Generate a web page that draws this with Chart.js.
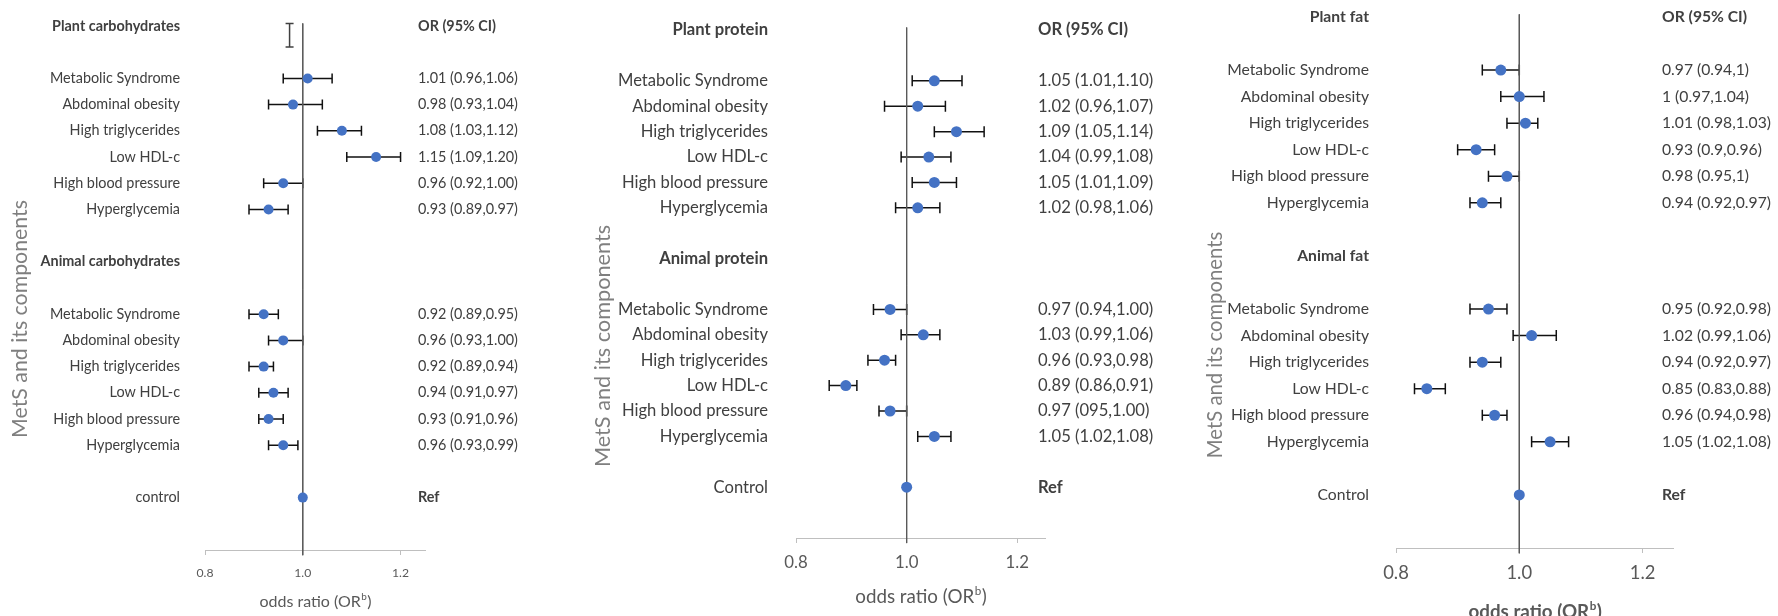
<!DOCTYPE html>
<html>
<head>
<meta charset="utf-8">
<script src="https://cdn.jsdelivr.net/npm/chart.js@4.4.1/dist/chart.umd.min.js"></script>
<style>
  html, body { margin: 0; padding: 0; background: #fff; }
  #wrap { position: relative; width: 1778px; height: 616px; overflow: hidden; }
  .panel { position: absolute; top: 0; height: 616px; }
</style>
</head>
<body>
<div id="wrap">
  <div class="panel" style="left:0;width:580px"><canvas id="carbChart" width="580" height="616"></canvas></div>
  <div class="panel" style="left:580px;width:600px"><canvas id="proteinChart" width="600" height="616"></canvas></div>
  <div class="panel" style="left:1180px;width:598px"><canvas id="fatChart" width="598" height="616"></canvas></div>
</div>
<script>
// --- Data ---
const components = ['Metabolic Syndrome', 'Abdominal obesity', 'High triglycerides',
                    'Low HDL-c', 'High blood pressure', 'Hyperglycemia'];
const xTicks = [0.8, 1.0, 1.2];

// carbohydrates
const carbHeaders = ['Plant carbohydrates', 'Animal carbohydrates'];
const carbControl = 'control';
const plantCarbOR = [1.01, 0.98, 1.08, 1.15, 0.96, 0.93];
const plantCarbLo = [0.96, 0.93, 1.03, 1.09, 0.92, 0.89];
const plantCarbHi = [1.06, 1.04, 1.12, 1.20, 1.00, 0.97];
const plantCarbText = ['1.01 (0.96,1.06)', '0.98 (0.93,1.04)', '1.08 (1.03,1.12)',
                       '1.15 (1.09,1.20)', '0.96 (0.92,1.00)', '0.93 (0.89,0.97)'];
const animalCarbOR = [0.92, 0.96, 0.92, 0.94, 0.93, 0.96];
const animalCarbLo = [0.89, 0.93, 0.89, 0.91, 0.91, 0.93];
const animalCarbHi = [0.95, 1.00, 0.94, 0.97, 0.96, 0.99];
const animalCarbText = ['0.92 (0.89,0.95)', '0.96 (0.93,1.00)', '0.92 (0.89,0.94)',
                        '0.94 (0.91,0.97)', '0.93 (0.91,0.96)', '0.96 (0.93,0.99)'];
// stray vertical error bar next to the first header: [x, yFrom, yTo]
const carbStrayBar = [0.973, -0.1, 0.8];

// protein
const proteinHeaders = ['Plant protein', 'Animal protein'];
const proteinControl = 'Control';
const plantProtOR = [1.05, 1.02, 1.09, 1.04, 1.05, 1.02];
const plantProtLo = [1.01, 0.96, 1.05, 0.99, 1.01, 0.98];
const plantProtHi = [1.10, 1.07, 1.14, 1.08, 1.09, 1.06];
const plantProtText = ['1.05 (1.01,1.10)', '1.02 (0.96,1.07)', '1.09 (1.05,1.14)',
                       '1.04 (0.99,1.08)', '1.05 (1.01,1.09)', '1.02 (0.98,1.06)'];
const animalProtOR = [0.97, 1.03, 0.96, 0.89, 0.97, 1.05];
const animalProtLo = [0.94, 0.99, 0.93, 0.86, 0.95, 1.02];
const animalProtHi = [1.00, 1.06, 0.98, 0.91, 1.00, 1.08];
const animalProtText = ['0.97 (0.94,1.00)', '1.03 (0.99,1.06)', '0.96 (0.93,0.98)',
                        '0.89 (0.86,0.91)', '0.97 (095,1.00)', '1.05 (1.02,1.08)'];

// fat
const fatHeaders = ['Plant fat', 'Animal fat'];
const fatControl = 'Control';
const plantFatOR = [0.97, 1.00, 1.01, 0.93, 0.98, 0.94];
const plantFatLo = [0.94, 0.97, 0.98, 0.90, 0.95, 0.92];
const plantFatHi = [1.00, 1.04, 1.03, 0.96, 1.00, 0.97];
const plantFatText = ['0.97 (0.94,1)', '1 (0.97,1.04)', '1.01 (0.98,1.03)',
                      '0.93 (0.9,0.96)', '0.98 (0.95,1)', '0.94 (0.92,0.97)'];
const animalFatOR = [0.95, 1.02, 0.94, 0.85, 0.96, 1.05];
const animalFatLo = [0.92, 0.99, 0.92, 0.83, 0.94, 1.02];
const animalFatHi = [0.98, 1.06, 0.97, 0.88, 0.98, 1.08];
const animalFatText = ['0.95 (0.92,0.98)', '1.02 (0.99,1.06)', '0.94 (0.92,0.97)',
                       '0.85 (0.83,0.88)', '0.96 (0.94,0.98)', '1.05 (1.02,1.08)'];

const controlOR = 1.0;
const controlText = 'Ref';
const columnHeader = 'OR (95% CI)';
const yTitle = 'MetS and its components';
const xTitle = 'odds ratio (OR';
const xTitleSup = 'b';

// row layout: header, gap, 6 components, gap, header, gap, 6 components, gap, control, gap
const plantRows = [2, 3, 4, 5, 6, 7];
const animalRows = [11, 12, 13, 14, 15, 16];
const headerRows = [0, 9];
const controlRow = 18;
const lastRow = 20;

const FONT = 'Lato, "Open Sans", sans-serif';
const TEXT = '#404040';

function buildRows(headers, control) {
    const rows = new Array(lastRow + 1).fill('');
    rows[headerRows[0]] = headers[0];
    rows[headerRows[1]] = headers[1];
    plantRows.forEach((r, i) => rows[r] = components[i]);
    animalRows.forEach((r, i) => rows[r] = components[i]);
    rows[controlRow] = control;
    return rows;
}

// --- Panel definitions (data + look) ---
const panels = [
    {
        id: 'carbChart', headers: carbHeaders, control: carbControl,
        plant: [plantCarbOR, plantCarbLo, plantCarbHi, plantCarbText],
        animal: [animalCarbOR, animalCarbLo, animalCarbHi, animalCarbText],
        stray: carbStrayBar,
        width: 580, yWidth: 205, padRight: 155, padTop: 23.4, padBottom: 26, yMin: -0.1,
        labelSize: 14.4, labelGap: 17, tickSize: 12.2, tickPad: 10.5,
        xTitleSize: 16, xTitleBold: false, xTitleY: 602,
        yTitleSize: 21.3, yTitleX: 20, yTitleY: 319,
        orX: 418, radius: 5, cap: 5
    },
    {
        id: 'proteinChart', headers: proteinHeaders, control: proteinControl,
        plant: [plantProtOR, plantProtLo, plantProtHi, plantProtText],
        animal: [animalProtOR, animalProtLo, animalProtHi, animalProtText],
        stray: null,
        width: 600, yWidth: 216, padRight: 135, padTop: 27.5, padBottom: 38, yMin: -0.1,
        labelSize: 16.6, labelGap: 20, tickSize: 16.8, tickPad: 10,
        xTitleSize: 18.8, xTitleBold: false, xTitleY: 597,
        yTitleSize: 21.7, yTitleX: 23, yTitleY: 346,
        orX: 458, radius: 5.5, cap: 5.5
    },
    {
        id: 'fatChart', headers: fatHeaders, control: fatControl,
        plant: [plantFatOR, plantFatLo, plantFatHi, plantFatText],
        animal: [animalFatOR, animalFatLo, animalFatHi, animalFatText],
        stray: null,
        width: 598, yWidth: 216, padRight: 104.6, padTop: 14.3, padBottom: 28, yMin: -0.1,
        labelSize: 15.7, labelGap: 19, tickSize: 18.4, tickPad: 9,
        xTitleSize: 18.8, xTitleBold: true, xTitleY: 612,
        yTitleSize: 20.3, yTitleX: 35, yTitleY: 345,
        orX: 482, radius: 5.5, cap: 5.5
    }
];

// --- Drawing helpers (error bars, text column, titles) ---
function forestPlugin(p) {
    return {
        id: 'forest_' + p.id,
        beforeDatasetsDraw(chart) {
            const {ctx, scales: {x, y}} = chart;
            ctx.save();
            ctx.strokeStyle = '#111';
            ctx.lineWidth = 1.5;
            [[p.plant, plantRows], [p.animal, animalRows]].forEach(([series, rows]) => {
                rows.forEach((r, i) => {
                    const py = y.getPixelForValue(r);
                    const x0 = x.getPixelForValue(series[1][i]);
                    const x1 = x.getPixelForValue(series[2][i]);
                    ctx.beginPath();
                    ctx.moveTo(x0, py); ctx.lineTo(x1, py);
                    ctx.moveTo(x0, py - p.cap); ctx.lineTo(x0, py + p.cap);
                    ctx.moveTo(x1, py - p.cap); ctx.lineTo(x1, py + p.cap);
                    ctx.stroke();
                });
            });
            if (p.stray) {
                const sx = x.getPixelForValue(p.stray[0]);
                const y0 = y.getPixelForValue(p.stray[1]);
                const y1 = y.getPixelForValue(p.stray[2]);
                ctx.strokeStyle = '#404040';
                ctx.beginPath();
                ctx.moveTo(sx, y0); ctx.lineTo(sx, y1);
                ctx.moveTo(sx - 4, y0); ctx.lineTo(sx + 4, y0);
                ctx.moveTo(sx - 4, y1); ctx.lineTo(sx + 4, y1);
                ctx.stroke();
            }
            ctx.restore();
        },
        afterDraw(chart) {
            const {ctx, chartArea, scales: {y}} = chart;
            ctx.save();
            ctx.fillStyle = TEXT;
            ctx.textBaseline = 'middle';
            ctx.textAlign = 'left';

            // OR (95% CI) column
            ctx.font = `bold ${p.labelSize}px ${FONT}`;
            ctx.fillText(columnHeader, p.orX, y.getPixelForValue(headerRows[0]));
            ctx.fillText(controlText, p.orX, y.getPixelForValue(controlRow));
            ctx.font = `${p.labelSize}px ${FONT}`;
            plantRows.forEach((r, i) => ctx.fillText(p.plant[3][i], p.orX, y.getPixelForValue(r)));
            animalRows.forEach((r, i) => ctx.fillText(p.animal[3][i], p.orX, y.getPixelForValue(r)));

            // y title (rotated)
            ctx.save();
            ctx.translate(p.yTitleX, p.yTitleY);
            ctx.rotate(-Math.PI / 2);
            ctx.textAlign = 'center';
            ctx.fillStyle = '#7f7f7f';
            ctx.font = `${p.yTitleSize}px ${FONT}`;
            ctx.fillText(yTitle, 0, 0);
            ctx.restore();

            // x title with superscript
            const weight = p.xTitleBold ? 'bold ' : '';
            const mainFont = `${weight}${p.xTitleSize}px ${FONT}`;
            const supFont = `${weight}${p.xTitleSize * 0.62}px ${FONT}`;
            ctx.font = mainFont;
            const w1 = ctx.measureText(xTitle).width;
            const w3 = ctx.measureText(')').width;
            ctx.font = supFont;
            const w2 = ctx.measureText(xTitleSup).width;
            let tx = (chartArea.left + chartArea.right) / 2 - (w1 + w2 + w3) / 2;
            ctx.fillStyle = '#595959';
            ctx.font = mainFont;
            ctx.fillText(xTitle, tx, p.xTitleY);
            ctx.font = supFont;
            ctx.fillText(xTitleSup, tx + w1 + 0.5, p.xTitleY - p.xTitleSize * 0.3);
            ctx.font = mainFont;
            ctx.fillText(')', tx + w1 + w2 + 1, p.xTitleY);
            ctx.restore();
        }
    };
}

function makeChart(p) {
    const rows = buildRows(p.headers, p.control);
    const points = [];
    plantRows.forEach((r, i) => points.push({x: p.plant[0][i], y: r}));
    animalRows.forEach((r, i) => points.push({x: p.animal[0][i], y: r}));
    points.push({x: controlOR, y: controlRow});

    return new Chart(document.getElementById(p.id), {
        type: 'scatter',
        data: {
            datasets: [
                {
                    data: points,
                    backgroundColor: '#4472C4',
                    borderWidth: 0,
                    pointRadius: p.radius,
                    pointHoverRadius: p.radius
                },
                {
                    data: [{x: 1, y: p.yMin}, {x: 1, y: lastRow + 0.2}],
                    showLine: true,
                    borderColor: '#595959',
                    borderWidth: 1,
                    pointRadius: 0,
                    clip: false
                }
            ]
        },
        options: {
            responsive: false,
            animation: false,
            events: [],
            layout: { padding: { left: 0, top: p.padTop, right: p.padRight, bottom: p.padBottom } },
            plugins: { legend: { display: false }, tooltip: { enabled: false } },
            scales: {
                x: {
                    type: 'linear', min: 0.8, max: 1.25,
                    afterBuildTicks: s => { s.ticks = xTicks.map(v => ({value: v})); },
                    afterFit: s => { s.height = 40; s.paddingLeft = 0; s.paddingRight = 0; },
                    grid: { drawOnChartArea: false, drawTicks: true, tickLength: 5, color: '#bfbfbf' },
                    border: { display: true, color: '#bfbfbf', width: 1 },
                    ticks: {
                        callback: v => v.toFixed(1),
                        font: { family: FONT, size: p.tickSize },
                        color: '#595959',
                        padding: p.tickPad,
                        maxRotation: 0
                    }
                },
                y: {
                    type: 'linear', reverse: true, min: p.yMin, max: lastRow,
                    afterBuildTicks: s => { s.ticks = rows.map((_, i) => ({value: i})); },
                    afterFit: s => { s.width = p.yWidth; s.paddingTop = 0; s.paddingBottom = 0; },
                    grid: { display: false },
                    border: { display: false },
                    ticks: {
                        autoSkip: false,
                        callback: (v, i) => rows[i],
                        font: ctx => ({
                            family: FONT,
                            size: p.labelSize,
                            weight: headerRows.includes(ctx.index) ? 'bold' : 'normal'
                        }),
                        color: TEXT,
                        padding: p.labelGap
                    }
                }
            }
        },
        plugins: [forestPlugin(p)]
    });
}

document.fonts && document.fonts.load ? Promise.all([
    document.fonts.load('16px Lato'), document.fonts.load('bold 16px Lato')
]).finally(() => panels.forEach(makeChart)) : panels.forEach(makeChart);
</script>
</body>
</html>
